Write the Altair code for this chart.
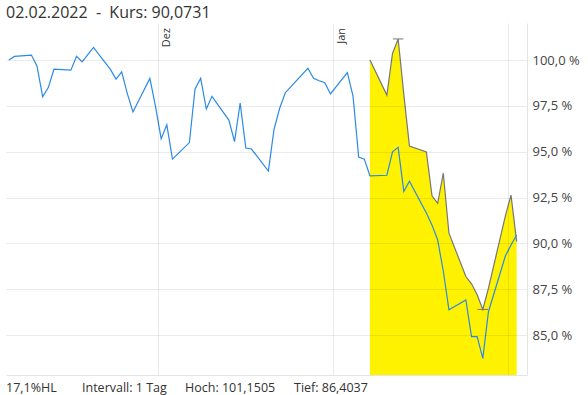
import altair as alt
import pandas as pd

# ---------------- data ----------------
dates = [
    "2021-11-04", "2021-11-05", "2021-11-08", "2021-11-09", "2021-11-10", "2021-11-11", "2021-11-12",
    "2021-11-15", "2021-11-16", "2021-11-17", "2021-11-18", "2021-11-19",
    "2021-11-22", "2021-11-23", "2021-11-24", "2021-11-25", "2021-11-26",
    "2021-11-29", "2021-11-30", "2021-12-01", "2021-12-02", "2021-12-03",
    "2021-12-06", "2021-12-07", "2021-12-08", "2021-12-09", "2021-12-10",
    "2021-12-13", "2021-12-14", "2021-12-15", "2021-12-16", "2021-12-17",
    "2021-12-20", "2021-12-21", "2021-12-22", "2021-12-23", "2021-12-24",
    "2021-12-27", "2021-12-28", "2021-12-29", "2021-12-30", "2021-12-31",
    "2022-01-03", "2022-01-04", "2022-01-05", "2022-01-06", "2022-01-07",
    "2022-01-10", "2022-01-11", "2022-01-12", "2022-01-13", "2022-01-14",
    "2022-01-17", "2022-01-18", "2022-01-19", "2022-01-20", "2022-01-21",
    "2022-01-24", "2022-01-25", "2022-01-26", "2022-01-27", "2022-01-28",
    "2022-01-31", "2022-02-01", "2022-02-02",
]
kurs_pct = [
    100.0, 100.2, 100.27, 99.67, 98.0, 98.5, 99.5,
    99.45, 100.2, 99.9, 100.3, 100.69,
    99.49, 98.96, 99.36, 98.17, 97.17,
    99.0, 97.46, 95.7, 96.47, 94.6,
    95.5, 98.42, 99.0, 97.33, 98.02,
    96.73, 95.55, 97.66, 95.2, 95.15,
    93.95, 96.22, 97.37, 98.22, 98.55,
    99.55, 99.0, 98.87, 98.76, 98.15,
    99.32, 98.04, 94.71, 94.6, 93.69,
    93.72, 95.0, 95.24, 92.84, 93.39,
    91.66, 91.0, 90.19, 88.5, 86.38,
    86.92, 84.92, 84.92, 83.74, 86.28,
    89.32, 89.92, 90.46,
]

hl_dates = [
    "2022-01-07", "2022-01-10", "2022-01-11", "2022-01-12", "2022-01-13", "2022-01-14",
    "2022-01-17", "2022-01-18", "2022-01-19", "2022-01-20", "2022-01-21",
    "2022-01-24", "2022-01-25", "2022-01-26", "2022-01-27", "2022-01-28",
    "2022-01-31", "2022-02-01", "2022-02-02",
]
hl_pct = [
    100.0, 98.09, 100.36, 101.1505, 98.13, 95.31,
    94.99, 92.6, 92.19, 93.83, 90.56,
    88.2, 87.8, 87.2, 86.4037, 87.56,
    91.5, 92.64, 90.10,
]

extreme_dates = ["2022-01-12", "2022-01-27"]
extreme_vals = [101.1505, 86.4037]

month_dates = ["2021-12-01", "2022-01-01"]
month_labels = ["Dez", "Jan"]

y_ticks = [85.0, 87.5, 90.0, 92.5, 95.0, 97.5, 100.0]

title_text = "02.02.2022\u00a0\u00a0-\u00a0\u00a0Kurs: 90,0731"
footer_texts = ["17,1%HL", "Intervall: 1 Tag", "Hoch: 101,1505", "Tief: 86,4037"]

# ---------------- layout / style ----------------
Y_MIN, Y_MAX = 82.83, 102.02
FONT = "Open Sans"
W, H = 521, 352
footer_x = [0, 76, 179, 288]

def noon(ds):
    return pd.to_datetime(ds) + pd.Timedelta(hours=12)

kurs_df = pd.DataFrame({"date": noon(dates), "value": kurs_pct})
hl_df = pd.DataFrame({"date": noon(hl_dates), "value": hl_pct})
ext_df = pd.DataFrame({"date": noon(extreme_dates), "value": extreme_vals})
month_df = pd.DataFrame({"date": pd.to_datetime(month_dates), "label": month_labels})

x_scale = alt.Scale(domain=[alt.DateTime(year=2021, month=11, date=4),
                            alt.DateTime(year=2022, month=2, date=4, hours=8)])
y_scale = alt.Scale(domain=[Y_MIN, Y_MAX], zero=False, nice=False)

x_axis = alt.Axis(
    values=[alt.DateTime(year=2021, month=12, date=1),
            alt.DateTime(year=2022, month=1, date=1),
            alt.DateTime(year=2022, month=2, date=1)],
    labels=False, ticks=False, title=None, grid=True,
    gridColor="#000000", gridOpacity=0.08, domainColor="#e4e4e4", zindex=1,
)
y_axis = alt.Axis(
    orient="right", values=y_ticks, title=None, ticks=False, grid=True,
    gridColor="#000000", gridOpacity=0.08, domainColor="#e4e4e4",
    labelExpr="replace(format(datum.value, '.1f'), '.', ',') + ' %'",
    labelFont=FONT, labelFontSize=13, labelColor="#444444", labelPadding=5, zindex=1,
)

area = alt.Chart(hl_df).mark_area(color="#fff200", opacity=1, clip=True).encode(
    x=alt.X("date:T", scale=x_scale, axis=x_axis),
    y=alt.Y("value:Q", scale=y_scale, axis=y_axis),
    y2=alt.datum(Y_MIN),
)
hl_line = alt.Chart(hl_df).mark_line(color="#777777", strokeWidth=1.2).encode(
    x="date:T", y="value:Q"
)
kurs_line = alt.Chart(kurs_df).mark_line(color="#2b8ae6", strokeWidth=1.2).encode(
    x="date:T", y="value:Q"
)
ext_marks = alt.Chart(ext_df).mark_point(
    shape="M-1,0L1,0", size=110, filled=False, strokeWidth=1, color="#777777", opacity=1
).encode(x="date:T", y="value:Q")

month_text = alt.Chart(month_df).mark_text(
    angle=270, align="right", baseline="top", dy=3, font=FONT, fontSize=11, color="#333333"
).encode(x="date:T", y=alt.value(5), text="label:N")

title = alt.Chart(pd.DataFrame({"t": [title_text]})).mark_text(
    align="left", baseline="alphabetic", font=FONT, fontSize=16, color="#333333"
).encode(x=alt.value(0), y=alt.value(-4.7), text="t:N")

footers = []
for txt, fx in zip(footer_texts, footer_x):
    footers.append(
        alt.Chart(pd.DataFrame({"t": [txt]})).mark_text(
            align="left", baseline="alphabetic", font=FONT, fontSize=12.5, color="#333333"
        ).encode(x=alt.value(fx), y=alt.value(369), text="t:N")
    )

chart = alt.layer(area, hl_line, kurs_line, ext_marks, month_text, title, *footers).properties(
    width=W, height=H,
    padding={"left": 6, "top": 23, "right": 61, "bottom": 20},
    autosize=alt.AutoSizeParams(type="none"),
).configure_view(stroke=None)

chart.save("out.html", embed_options={"renderer": "svg", "actions": False})
